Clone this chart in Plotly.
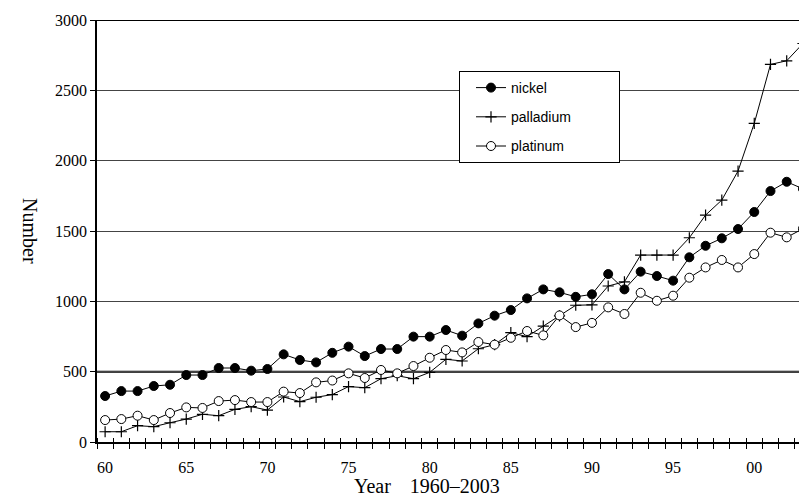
import plotly.graph_objects as go

years = list(range(1960, 2004))
nickel = [327, 362, 362, 398, 407, 476, 476, 526, 526, 507, 519, 623, 583, 566, 634,
          678, 611, 661, 661, 749, 749, 796, 756, 843, 898, 938, 1021, 1085, 1064, 1032,
          1050, 1194, 1085, 1211, 1180, 1147, 1313, 1395, 1448, 1514, 1635, 1784, 1850, 1800]
palladium = [73, 73, 116, 109, 137, 163, 197, 187, 232, 251, 227, 320, 287, 318, 337,
             394, 386, 450, 471, 450, 495, 588, 576, 663, 692, 777, 749, 824, 896, 972,
             975, 1109, 1139, 1329, 1329, 1329, 1452, 1613, 1720, 1926, 2265, 2684, 2710, 2833]
platinum = [156, 163, 187, 156, 206, 246, 242, 291, 298, 284, 284, 358, 348, 424, 437,
            488, 455, 512, 488, 540, 599, 654, 637, 711, 692, 741, 789, 758, 900, 817,
            847, 957, 910, 1061, 1004, 1040, 1168, 1241, 1294, 1241, 1336, 1488, 1455, 1516]

x_tick_vals = [1960, 1965, 1970, 1975, 1980, 1985, 1990, 1995, 2000]
x_tick_text = ["60", "65", "70", "75", "80", "85", "90", "95", "00"]
y_tick_vals = [0, 500, 1000, 1500, 2000, 2500, 3000]

serif = "Liberation Serif, Times New Roman, serif"
sans = "Liberation Sans, Arial, sans-serif"

# page body has an 8px margin: figure is placed at (8, 8)
OFF = 8
L, T, R, B = 97 - OFF, 20 - OFF, 0, 55
W, H = 807 - OFF, 497 - OFF
PW = 807 - 97          # plot width in px
PH = 442 - 20          # plot height in px

def px_x(p):
    return (p - 97) / PW

def px_y(p):
    return (442 - p) / PH

pad = "\u00a0" * 11

fig = go.Figure()
fig.add_trace(go.Scatter(
    x=years, y=palladium, name="palladium" + pad, mode="lines+markers",
    line=dict(color="black", width=1), cliponaxis=False,
    marker=dict(symbol="cross-thin", size=8, color="black", line=dict(color="black", width=1.2)),
    legendgroup="b", legendrank=2))
fig.add_trace(go.Scatter(
    x=years, y=nickel, name="nickel", mode="lines+markers",
    line=dict(color="black", width=1), cliponaxis=False,
    marker=dict(symbol="circle", size=9, color="black", line=dict(color="black", width=1)),
    legendgroup="a", legendrank=1))
fig.add_trace(go.Scatter(
    x=years, y=platinum, name="platinum", mode="lines+markers",
    line=dict(color="black", width=1), cliponaxis=False,
    marker=dict(symbol="circle", size=9, color="white", line=dict(color="black", width=1)),
    legendgroup="c", legendrank=3))
# helper trace for the inner half of the year ticks
fig.add_trace(go.Scatter(x=[], y=[], xaxis="x2", yaxis="y", showlegend=False, hoverinfo="skip"))

fig.update_layout(
    width=W, height=H,
    margin=dict(l=L, r=R, t=T, b=B, pad=0),
    paper_bgcolor="white", plot_bgcolor="white",
    showlegend=True,
    legend=dict(
        x=px_x(459), y=px_y(71), xanchor="left", yanchor="top",
        bgcolor="white", bordercolor="black", borderwidth=1,
        font=dict(family=sans, size=14, color="black"),
        itemwidth=30, tracegroupgap=8, traceorder="grouped", indentation=11),
    xaxis=dict(
        range=[1959.5, 2003.25], tickmode="array", tickvals=x_tick_vals, ticktext=x_tick_text,
        ticks="", showgrid=False, zeroline=False,
        showline=True, linecolor="black", linewidth=2,
        tickfont=dict(family=serif, size=16, color="black"),
        ticklabelstandoff=10,
        minor=dict(tickmode="linear", tick0=1959.5, dtick=1, ticks="outside",
                   ticklen=5, tickwidth=1, tickcolor="black", showgrid=False)),
    xaxis2=dict(
        range=[1959.5, 2003.25], overlaying="x", anchor="y", side="bottom",
        showticklabels=False, ticks="", showgrid=False, zeroline=False, showline=False,
        minor=dict(tickmode="linear", tick0=1959.5, dtick=1, ticks="inside",
                   ticklen=4, tickwidth=1, tickcolor="black", showgrid=False)),
    yaxis=dict(
        range=[0, 3000], tickmode="array", tickvals=y_tick_vals,
        ticks="outside", ticklen=5, tickwidth=1, tickcolor="black",
        showgrid=True, gridcolor="#444444", gridwidth=1,
        zeroline=False, showline=True, linecolor="black", linewidth=1.5,
        tickfont=dict(family=serif, size=16, color="black")),
    annotations=[
        dict(text="Year\u00a0\u00a0\u00a0\u20091960\u20132003", xref="paper", yref="paper",
             x=px_x(427), y=px_y(486), xanchor="center", yanchor="middle",
             showarrow=False, font=dict(family=serif, size=20, color="black")),
        dict(text="Number", xref="paper", yref="paper",
             x=px_x(30), y=0.5, xanchor="center", yanchor="middle",
             textangle=90, showarrow=False, font=dict(family=serif, size=20, color="black")),
    ],
    shapes=[
        dict(type="line", xref="paper", yref="y", x0=0, x1=1, y0=500, y1=500,
             line=dict(color="black", width=2), layer="below"),
        dict(type="line", xref="paper", yref="y", x0=0, x1=1, y0=3000, y1=3000,
             line=dict(color="black", width=2), layer="below"),
    ],
)

fig.write_html("out.html")
